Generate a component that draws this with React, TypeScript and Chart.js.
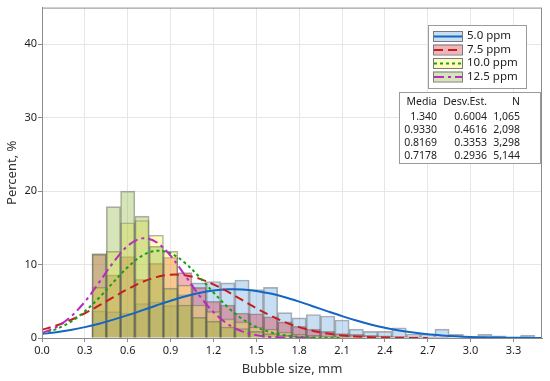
import React, { useEffect, useRef } from "react";
import { Chart, registerables } from "chart.js";

Chart.register(...registerables);

// ---------- data ----------
const binCenters = [0.4, 0.5, 0.6, 0.7, 0.8, 0.9, 1.0, 1.1, 1.2, 1.3, 1.4, 1.5, 1.6, 1.7, 1.8, 1.9, 2.0, 2.1, 2.2, 2.3, 2.4, 2.5, 2.6, 2.7, 2.8, 2.9, 3.0, 3.1, 3.2, 3.3, 3.4];
const hist50 = [3.7, 3.6, 3.4, 4.7, 4.9, 4.4, 5.9, 7.5, 7.7, 7.5, 7.9, 6.6, 6.9, 3.45, 2.75, 3.2, 3.0, 2.45, 1.2, 0.9, 0.9, 1.4, 0.55, 0.55, 1.2, 0.5, 0.2, 0.5, 0.3, 0.1, 0.4];
const hist75 = [11.4, 8.6, 11.1, 8.0, 10.2, 11.0, 8.9, 6.9, 5.0, 4.5, 3.4, 3.3, 2.9, 2.2, 1.6, 1.2, 0.9, 0.6, 0.5, 0.35, 0.3, 0.2, 0.15, 0.1, 0.1, 0, 0, 0, 0, 0, 0];
const hist100 = [6.9, 11.8, 15.7, 16.0, 14.0, 11.8, 7.2, 4.5, 3.6, 2.6, 2.2, 1.5, 1.2, 0.8, 0.5, 0.35, 0.25, 0.15, 0.1, 0, 0, 0, 0, 0, 0, 0, 0, 0, 0, 0, 0];
const hist125 = [11.5, 17.9, 20.0, 16.6, 12.5, 6.8, 4.5, 2.8, 2.3, 1.5, 1.3, 0.9, 0.6, 0.4, 0.25, 0.15, 0.1, 0.05, 0, 0, 0, 0, 0, 0, 0, 0, 0, 0, 0, 0, 0];

const curveX = [0, 0.1, 0.2, 0.3, 0.4, 0.5, 0.6, 0.7, 0.8, 0.9, 1.0, 1.1, 1.2, 1.3, 1.4, 1.5, 1.6, 1.7, 1.8, 1.9, 2.0, 2.1, 2.2, 2.3, 2.4, 2.5, 2.6, 2.7, 2.8, 2.9, 3.0, 3.1, 3.2, 3.3, 3.4, 3.5];
const fit50 = [0.55, 0.79, 1.09, 1.48, 1.95, 2.5, 3.11, 3.76, 4.43, 5.08, 5.66, 6.13, 6.46, 6.63, 6.61, 6.41, 6.05, 5.55, 4.95, 4.3, 3.63, 2.98, 2.38, 1.85, 1.4, 1.03, 0.74, 0.51, 0.35, 0.23, 0.145, 0.09, 0.055, 0.03, 0.02, 0.01];
const fit75 = [1.12, 1.7, 2.45, 3.37, 4.44, 5.56, 6.66, 7.61, 8.29, 8.62, 8.55, 8.09, 7.31, 6.3, 5.18, 4.06, 3.04, 2.17, 1.48, 0.96, 0.6, 0.35, 0.2, 0.11, 0.055, 0.027, 0.012, 0.005];
const fit100 = [0.61, 1.21, 2.19, 3.63, 5.49, 7.61, 9.65, 11.2, 11.88, 11.54, 10.25, 8.33, 6.2, 4.21, 2.62, 1.49, 0.78, 0.37, 0.16, 0.065, 0.024, 0.008];
const fit125 = [0.68, 1.49, 2.87, 4.94, 7.57, 10.32, 12.54, 13.57, 13.07, 11.21, 8.56, 5.82, 3.53, 1.9, 0.91, 0.39, 0.15, 0.05, 0.015, 0.004];

const xTicks = [0, 0.3, 0.6, 0.9, 1.2, 1.5, 1.8, 2.1, 2.4, 2.7, 3.0, 3.3];
const yTicks = [0, 10, 20, 30, 40];

const seriesLabels = ["5.0 ppm", "7.5 ppm", "10.0 ppm", "12.5 ppm"];
const statsHeader = ["Media", "Desv.Est.", "N"];
const statsMedia = ["1.340", "0.9330", "0.8169", "0.7178"];
const statsSD = ["0.6004", "0.4616", "0.3353", "0.2936"];
const statsN = ["1,065", "2,098", "3,298", "5,144"];

// ---------- styles ----------
const FONT = "'Noto Sans', 'Open Sans', sans-serif";
const fills = [
  "rgba(98,160,217,0.35)",
  "rgba(212,40,55,0.35)",
  "rgba(255,240,69,0.35)",
  "rgba(138,178,55,0.35)",
];
const lineColors = ["#1466c2", "#c41e1e", "#16a016", "#b82bc0"];
const dashes: number[][] = [[], [9, 5], [3, 3], [10, 4, 3, 4]];

const hists = [hist50, hist75, hist100, hist125];
const fits = [fit50, fit75, fit100, fit125];

const overlayPlugin = {
  id: "overlay",
  beforeDraw(chart: any) {
    const ctx = chart.ctx as CanvasRenderingContext2D;
    ctx.save();
    ctx.fillStyle = "#ffffff";
    ctx.fillRect(0, 0, chart.width, chart.height);
    ctx.restore();
  },
  afterDraw(chart: any) {
    const ctx = chart.ctx as CanvasRenderingContext2D;
    const a = chart.chartArea;
    ctx.save();
    // frame
    ctx.strokeStyle = "#8c8c8c";
    ctx.lineWidth = 1;
    ctx.strokeRect(a.left + 0.5, a.top + 0.5, a.right - a.left - 1, a.bottom - a.top);

    // legend box
    const lx = 428, ly = 25, lw = 98, lh = 63;
    ctx.fillStyle = "#ffffff";
    ctx.fillRect(lx, ly, lw, lh);
    ctx.strokeStyle = "#9a9a9a";
    ctx.strokeRect(lx + 0.5, ly + 0.5, lw, lh);
    ctx.font = `11.5px ${FONT}`;
    ctx.textBaseline = "middle";
    seriesLabels.forEach((lab, i) => {
      const cy = 36 + i * 13.5;
      const sx = 433, sw = 29, sh = 10;
      ctx.fillStyle = fills[i];
      ctx.fillRect(sx, cy - sh / 2, sw, sh);
      ctx.strokeStyle = "#7a7a7a";
      ctx.setLineDash([]);
      ctx.lineWidth = 1;
      ctx.strokeRect(sx + 0.5, cy - sh / 2 + 0.5, sw, sh);
      ctx.strokeStyle = lineColors[i];
      ctx.lineWidth = 2;
      ctx.setLineDash(dashes[i]);
      ctx.beginPath();
      ctx.moveTo(sx + 1, cy + 0.5);
      ctx.lineTo(sx + sw, cy + 0.5);
      ctx.stroke();
      ctx.setLineDash([]);
      ctx.fillStyle = "#222";
      ctx.textAlign = "left";
      ctx.fillText(lab, 467, cy);
    });

    // stats table
    const tx = 399, ty = 92, tw = 141, th = 71;
    ctx.fillStyle = "#ffffff";
    ctx.fillRect(tx, ty, tw, th);
    ctx.strokeStyle = "#9a9a9a";
    ctx.lineWidth = 1;
    ctx.strokeRect(tx + 0.5, ty + 0.5, tw, th);
    ctx.font = `10.5px ${FONT}`;
    ctx.fillStyle = "#222";
    ctx.textAlign = "right";
    const cols = [437, 487, 520];
    statsHeader.forEach((h, c) => ctx.fillText(h, cols[c], 102));
    for (let r = 0; r < 4; r++) {
      const y = 117 + r * 13;
      ctx.fillText(statsMedia[r], cols[0], y);
      ctx.fillText(statsSD[r], cols[1], y);
      ctx.fillText(statsN[r], cols[2], y);
    }
    ctx.restore();
  },
};

export default function App() {
  const ref = useRef<HTMLCanvasElement | null>(null);
  useEffect(() => {
    document.body.style.margin = "0";
    if (!ref.current) return;
    Chart.defaults.font.family = FONT;
    const barSets = hists.map((h, i) => ({
      type: "bar" as const,
      label: seriesLabels[i],
      data: binCenters.map((x, j) => ({ x, y: h[j] })).filter((p) => p.y > 0),
      backgroundColor: fills[i],
      borderColor: "rgba(95,95,95,0.5)",
      borderWidth: 1,
      grouped: false,
      barPercentage: 1,
      categoryPercentage: 1,
      order: 13 - i,
    }));
    const lineSets = fits.map((f, i) => ({
      type: "line" as const,
      label: seriesLabels[i] + " fit",
      data: f.map((y, j) => ({ x: curveX[j], y })),
      borderColor: lineColors[i],
      borderWidth: 2,
      borderDash: dashes[i],
      pointRadius: 0,
      fill: false,
      tension: 0.35,
      order: 3 - i,
    }));
    const chart = new Chart(ref.current, {
      type: "bar",
      data: { datasets: [...barSets, ...lineSets] as any },
      options: {
        responsive: false,
        animation: false,
        devicePixelRatio: 1,
        layout: { padding: { top: 7, right: 8, left: 0, bottom: 0 } },
        plugins: { legend: { display: false }, tooltip: { enabled: false } },
        scales: {
          x: {
            type: "linear",
            min: 0,
            max: 3.5,
            offset: false,
            afterBuildTicks: (s: any) => {
              s.ticks = xTicks.map((v) => ({ value: v }));
            },
            afterFit: (s: any) => {
              s.height = 43;
            },
            ticks: {
              callback: (v: any) => Number(v).toFixed(1),
              color: "#1e1e1e",
              font: { size: 11 },
              padding: 2,
              maxRotation: 0,
              autoSkip: false,
            },
            grid: { color: "#e6e6e6", tickColor: "#8c8c8c", tickLength: 4, offset: false },
            border: { color: "#8c8c8c" },
            title: { display: true, text: "Bubble size, mm", color: "#333", font: { size: 13 } },
          },
          y: {
            min: 0,
            max: 45,
            afterBuildTicks: (s: any) => {
              s.ticks = yTicks.map((v) => ({ value: v }));
            },
            afterFit: (s: any) => {
              s.width = 42;
            },
            ticks: { color: "#1e1e1e", font: { size: 11 }, padding: 1 },
            grid: { color: "#e6e6e6", tickColor: "#8c8c8c", tickLength: 4 },
            border: { color: "#8c8c8c" },
            title: { display: true, text: "Percent, %", color: "#333", font: { size: 13 } },
          },
        },
      },
      plugins: [overlayPlugin],
    });
    return () => chart.destroy();
  }, []);
  return (
    <div style={{ width: 550, height: 381, background: "#fff" }}>
      <canvas ref={ref} width={550} height={381} />
    </div>
  );
}
